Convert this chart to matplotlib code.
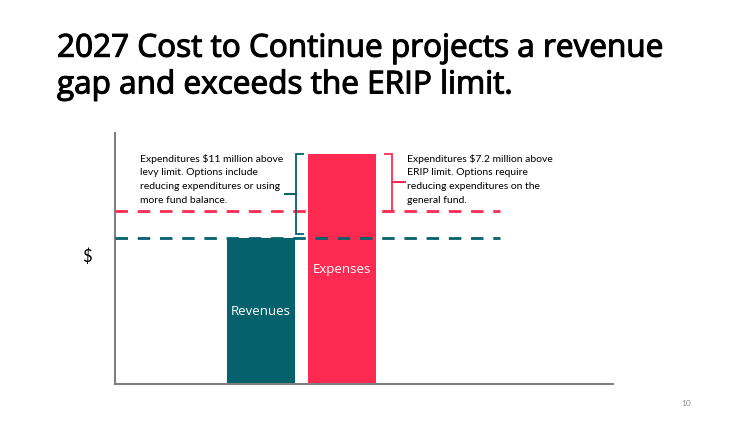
import matplotlib.pyplot as plt
import matplotlib.patheffects as pe
from matplotlib.path import Path
from matplotlib.patches import PathPatch

# chart data ($ millions, conceptual)
categories = ["Revenues", "Expenses"]
amounts = [18.4, 29.0]
bar_colors = ["#05616B", "#FF2A52"]
erip_limit = 21.8
levy_limit = 18.4
levy_note = "Expenditures $11 million above\nlevy limit. Options include\nreducing expenditures or using\nmore fund balance."
erip_note = "Expenditures $7.2 million above\nERIP limit. Options require\nreducing expenditures on the\ngeneral fund."
title = "2027 Cost to Continue projects a revenue\ngap and exceeds the ERIP limit."

TEAL = "#05616B"
RED = "#FF2A52"
plt.rcParams["font.family"] = ["Lato", "DejaVu Sans"]

fig = plt.figure(figsize=(7.5, 4.22), dpi=100)
ax = fig.add_axes([0.1533, 0.090, 0.664, 0.595])

xpos = [0, 1]
ax.bar(xpos, amounts, width=0.84, color=bar_colors, zorder=2)
ax.set_xlim(-1.80, 4.35)
ax.set_ylim(0, 31.7)

# limit lines
ax.plot([-1.80, 2.95], [erip_limit, erip_limit], color=RED, lw=2, ls=(0, (4.5, 3.5)), zorder=3)
ax.plot([-1.80, 2.95], [levy_limit, levy_limit], color=TEAL, lw=2, ls=(0, (4.5, 3.5)), zorder=3)

for x, y, lab in zip(xpos, amounts, categories):
    ax.text(x, y * 0.5, lab, color="white",
            ha="center", va="center", fontsize=9.5, family=["Open Sans", "DejaVu Sans"])


def brace(x, y0, y1, tip, serif, color):
    """Draw a bracket from y0 to y1 at x, with a spur pointing to tip."""
    ym = (y0 + y1) / 2
    verts = [(x + serif, y1), (x, y1), (x, ym), (tip, ym), (x, ym), (x, y0), (x + serif, y0)]
    codes = [Path.MOVETO] + [Path.LINETO] * 6
    ax.add_patch(PathPatch(Path(verts, codes), fill=False, ec=color, lw=1.3, zorder=4))


brace(0.435, levy_limit + 0.5, amounts[1], 0.29, 0.1, TEAL)
brace(1.62, erip_limit + 0.1, amounts[1], 1.80, -0.1, RED)

ax.text(-1.49, 29.1, levy_note, fontsize=7.5, va="top", ha="left", linespacing=1.7)
ax.text(1.81, 29.1, erip_note, fontsize=7.5, va="top", ha="left", linespacing=1.7)

ax.set_xticks([])
ax.set_yticks([])
for side in ["top", "right"]:
    ax.spines[side].set_visible(False)
for side in ["left", "bottom"]:
    ax.spines[side].set_color("#7f7f7f")
    ax.spines[side].set_linewidth(1.5)

# semibold look: regular face with a thin stroke of the same colour
fig.text(0.076, 0.925, title, fontsize=22.7, va="top", ha="left",
         family=["Open Sans", "DejaVu Sans"], linespacing=1.15,
         path_effects=[pe.withStroke(linewidth=0.8, foreground="black")])
fig.text(0.116, 0.392, "$", fontsize=12, ha="center", va="center")
fig.text(0.915, 0.045, "10", fontsize=6, color="#8c8c8c", ha="center", va="center")

plt.savefig("out.png", dpi=100)
plt.close()
